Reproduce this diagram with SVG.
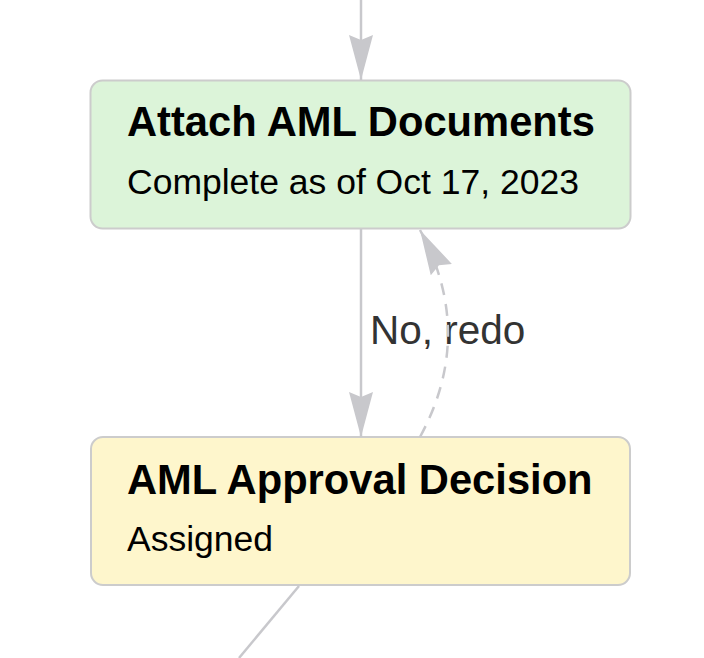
<svg xmlns="http://www.w3.org/2000/svg" width="704" height="658" viewBox="0 0 704 658">
<defs>
<style>
.node rect{stroke:#cccccc;stroke-width:2}
.title{font-family:"Liberation Sans",Arial,sans-serif;font-weight:bold;font-size:41.7px;fill:#000}
.sub{font-family:"Liberation Sans",Arial,sans-serif;font-size:35.5px;fill:#000}
.edge{fill:none;stroke:#c8c8cc;stroke-width:2.5}
.dashed{stroke-dasharray:12 9}
.elabel{font-family:"Liberation Sans",Arial,sans-serif;font-size:40.5px;fill:#333}
</style>
<marker id="arrow" markerUnits="userSpaceOnUse" markerWidth="46" markerHeight="26" refX="45" refY="12" orient="auto" viewBox="0 0 46 26">
<path d="M0,0 L45,12 L0,24 L5,12 z" fill="#c8c8cc"/>
</marker>
</defs>
<rect width="704" height="658" fill="#fff"/>
<g id="node-attach" class="node">
<rect x="90.5" y="80.5" width="540" height="148" rx="12" fill="#dcf4d9"/>
<text class="title" x="127" y="136">Attach AML Documents</text>
<text class="sub" x="127" y="194">Complete as of Oct 17, 2023</text>
</g>
<g id="node-decision" class="node">
<rect x="91" y="437" width="539" height="148" rx="12" fill="#fef6cc"/>
<text class="title" x="127" y="494">AML Approval Decision</text>
<text class="sub" x="127" y="551">Assigned</text>
</g>
<g id="connectors">
<text class="elabel" x="370" y="344">No, redo</text>
<path class="edge" d="M361,0 L361,80" marker-end="url(#arrow)"/>
<path class="edge" d="M361,229 L361,437" marker-end="url(#arrow)"/>
<path class="edge dashed" d="M420,437 Q476,334 420,230" marker-end="url(#arrow)"/>
<path class="edge" d="M299,586 L239,658"/>
</g>
</svg>
